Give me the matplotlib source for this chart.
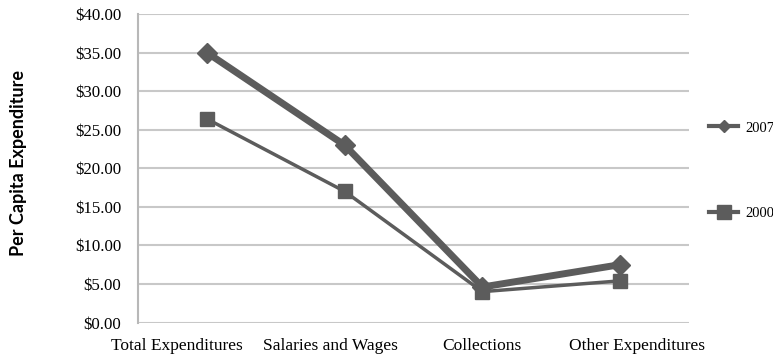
import matplotlib
matplotlib.use('Agg')
from matplotlib import pyplot as plt
from matplotlib.ticker import FuncFormatter
from matplotlib.lines import Line2D

categories = ['Total Expenditures', 'Salaries and Wages', 'Collections', 'Other Expenditures']
vals_2007 = [35.0, 23.0, 4.6, 7.5]
vals_2000 = [26.4, 17.0, 4.0, 5.4]
yticks = [0, 5, 10, 15, 20, 25, 30, 35, 40]
# label positions are spread a bit wider than the markers in the original
label_pos = [-0.22, 0.9, 2.0, 3.12]

serif = ['Liberation Serif', 'DejaVu Serif']
col = '#5c5c5c'

fig = plt.figure(figsize=(7.73, 3.56), dpi=100)
ax = fig.add_axes([138 / 773, 1 - 322.5 / 356, 551 / 773, 308.5 / 356])

x = list(range(len(categories)))
ax.plot(x, vals_2007, color=col, lw=5, marker='D', markersize=10, zorder=3)
ax.plot(x, vals_2000, color=col, lw=2.5, marker='s', markersize=10, zorder=3)

ax.set_xlim(-0.5, 3.5)
ax.set_ylim(0, 40)
ax.set_yticks(yticks)
ax.yaxis.set_major_formatter(FuncFormatter(lambda v, p: '${:.2f}'.format(v)))
ax.set_xticks(label_pos)
ax.set_xticklabels(categories, fontfamily=serif, fontsize=12.5)
for lab in ax.get_yticklabels():
	lab.set_fontfamily(serif)
	lab.set_fontsize(12.2)
ax.tick_params(length=0, pad=12)
ax.tick_params(axis='x', pad=11)

ax.grid(axis='y', color='#c8c8c8', lw=1.5)
ax.set_axisbelow(True)
for s in ['top', 'right', 'bottom']:
	ax.spines[s].set_visible(False)
ax.spines['left'].set_color('#b8b8b8')
ax.spines['left'].set_linewidth(1.5)

fig.text(19 / 773, 1 - 163 / 356, 'Per Capita Expenditure', rotation=90, ha='center', va='center',
	fontfamily=['Lato', 'DejaVu Sans'], fontweight='bold', fontsize=13)

h07 = Line2D([], [], color=col, lw=3, marker='D', markersize=6)
h00 = Line2D([], [], color=col, lw=3, marker='s', markersize=10)
kw = dict(loc='center left', frameon=False, prop={'family': serif, 'size': 10.5},
	handlelength=2.0, handletextpad=0.5, borderpad=0, borderaxespad=0)
leg1 = fig.legend([h07], ['2007'], bbox_to_anchor=(709 / 773, 1 - 128 / 356), **kw)
leg2 = fig.legend([h00], ['2000'], bbox_to_anchor=(709 / 773, 1 - 213 / 356), **kw)

plt.savefig('out.png', dpi=100)
